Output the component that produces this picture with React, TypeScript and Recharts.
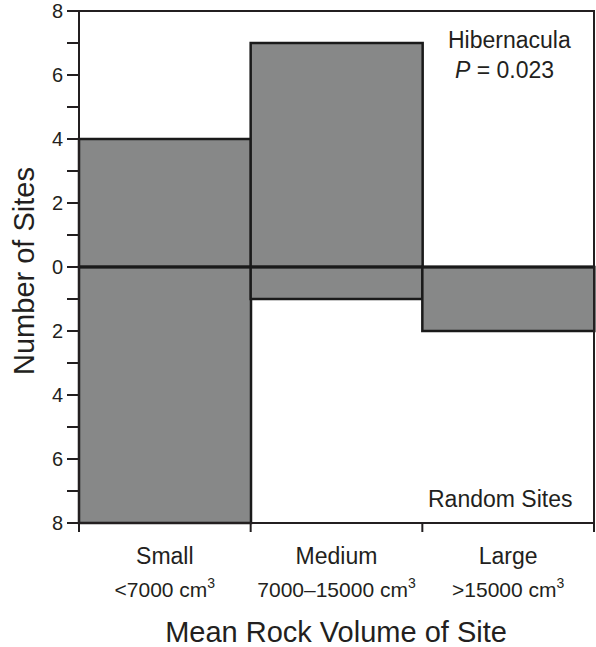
import { BarChart, Bar, XAxis, YAxis, ReferenceLine } from 'recharts'

const categories = ['Small', 'Medium', 'Large']
const sizeRanges = ['<7000', '7000–15000', '>15000']
const hibernacula = [4, 7, 0]
const randomSites = [8, 1, 2]
const yTicks = [-8, -7, -6, -5, -4, -3, -2, -1, 0, 1, 2, 3, 4, 5, 6, 7, 8]

const INK = '#231f20'
const FONT = '"Liberation Sans", Arial, Helvetica, sans-serif'

const W = 596
const H = 647
const M = { top: 11, right: 2, bottom: 0, left: 0 }
const Y_AXIS_W = 79
const X_AXIS_H = 124
const PLOT_W = W - M.left - M.right - Y_AXIS_W
const PLOT_H = H - M.top - M.bottom - X_AXIS_H
const BAND = PLOT_W / categories.length

// random sites go below zero, hibernacula above
const data = categories.map((c, i) => ({
  name: c,
  range: sizeRanges[i],
  hib: hibernacula[i],
  rand: -randomSites[i],
}))

// category label plus tick marks on the bin edges
function CatTick(props: any) {
  const { x, y, payload, index } = props
  const row = data.find((d) => d.name === payload.value)
  const last = index === categories.length - 1
  return (
    <g fontFamily={FONT} fill={INK}>
      <line x1={x - BAND / 2} x2={x - BAND / 2} y1={y} y2={y + 9} stroke={INK} strokeWidth={2} />
      {last && <line x1={x + BAND / 2} x2={x + BAND / 2} y1={y} y2={y + 9} stroke={INK} strokeWidth={2} />}
      <text x={x} y={y + 41} textAnchor="middle" fontSize={23}>
        {payload.value}
      </text>
      <text x={x} y={y + 74} textAnchor="middle" fontSize={21}>
        {row ? row.range : ''} cm
        <tspan dy={-9} fontSize={14}>3</tspan>
      </text>
    </g>
  )
}

export default function App() {
  return (
    <div style={{ position: 'absolute', left: 0, top: 0, width: W, height: H, background: '#fff' }}>
      <BarChart width={W} height={H} data={data} stackOffset="sign" barCategoryGap={0} margin={M}>
        <XAxis
          dataKey="name"
          height={X_AXIS_H}
          axisLine={false}
          tickLine={false}
          tickSize={0}
          tickMargin={0}
          interval={0}
          tick={<CatTick />}
        />
        <YAxis
          type="number"
          domain={[-8, 8]}
          ticks={yTicks}
          interval={0}
          width={Y_AXIS_W}
          tickSize={12}
          tickMargin={4}
          tickFormatter={(v: number) => (v % 2 === 0 ? String(Math.abs(v)) : '')}
          tick={{ fontSize: 20, fill: INK, fontFamily: FONT }}
          axisLine={{ stroke: INK, strokeWidth: 2 }}
          tickLine={{ stroke: INK, strokeWidth: 2 }}
        />
        <Bar dataKey="hib" stackId="s" fill="#878888" stroke="#1a1a1a" strokeWidth={2.5} isAnimationActive={false} />
        <Bar dataKey="rand" stackId="s" fill="#878888" stroke="#1a1a1a" strokeWidth={2.5} isAnimationActive={false} />
        <ReferenceLine y={0} stroke="#1a1a1a" strokeWidth={3} />
      </BarChart>
      <svg
        width={W}
        height={H}
        style={{ position: 'absolute', left: 0, top: 0, pointerEvents: 'none' }}
        fontFamily={FONT}
        fill={INK}
      >
        <rect x={Y_AXIS_W} y={M.top} width={PLOT_W} height={PLOT_H} fill="none" stroke={INK} strokeWidth={2} />
        <text x={34} y={271} fontSize={29} textAnchor="middle" transform="rotate(-90 34 271)">
          Number of Sites
        </text>
        <text x={336} y={642} fontSize={29} textAnchor="middle">
          Mean Rock Volume of Site
        </text>
        <text x={448} y={48} fontSize={23}>Hibernacula</text>
        <text x={455} y={78} fontSize={23}>
          <tspan fontStyle="italic">P</tspan> = 0.023
        </text>
        <text x={428} y={507} fontSize={23}>Random Sites</text>
      </svg>
    </div>
  )
}
